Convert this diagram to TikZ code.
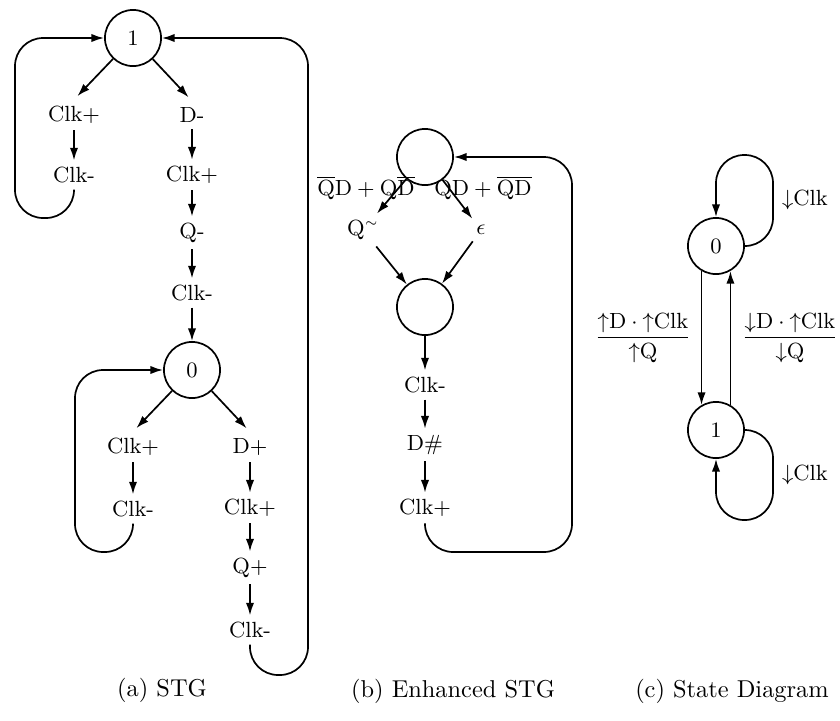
\documentclass[tikz,border=0pt]{standalone}
\usepackage{amsmath,amssymb}
\usepackage{tikz}
\usetikzlibrary{arrows.meta,positioning}

\begin{document}
\begin{tikzpicture}[
    x=0.41pt, y=-0.41pt,
    >={Latex[length=5.2pt,width=3.4pt]},
    state/.style={
        circle, draw, line width=0.7pt,
        minimum size=23pt, inner sep=0pt,
        font=\fontsize{9}{11}\selectfont
    },
    event/.style={inner sep=2.5pt, font=\fontsize{9}{11}\selectfont},
    guard/.style={inner sep=1pt, font=\fontsize{9}{11}\selectfont},
    caption/.style={inner sep=1pt, font=\normalsize},
    arr/.style={->, line width=0.7pt},
    back/.style={->, line width=0.7pt, rounded corners=11.5pt}
]
    \useasboundingbox (0,0) rectangle (840,721);

    % (a) STG
    \node[state] (s1) at (133,38) {1};
    \node[event] (a1) at (74,115) {Clk+};
    \node[event] (a2) at (74,175) {Clk-};
    \node[event] (a3) at (192,115) {D-};
    \node[event] (a4) at (192,175) {Clk+};
    \node[event] (a5) at (192,233) {Q-};
    \node[event] (a6) at (192,293) {Clk-};
    \node[state] (s0) at (192,370) {0};
    \node[event] (a7) at (133,447) {Clk+};
    \node[event] (a8) at (133,509) {Clk-};
    \node[event] (a9) at (250,447) {D+};
    \node[event] (a10) at (250,508) {Clk+};
    \node[event] (a11) at (250,568) {Q+};
    \node[event] (a12) at (250,630) {Clk-};

    \coordinate (la) at (15,218);
    \coordinate (lb) at (75,552);
    \coordinate (ra) at (308,675);

    \draw[arr, shorten >=2pt] (s1) -- (a1.north);
    \draw[arr, shorten >=2pt] (s1) -- (a3.north);
    \draw[arr] (a1) -- (a2);
    \draw[arr] (a3) -- (a4);
    \draw[arr] (a4) -- (a5);
    \draw[arr] (a5) -- (a6);
    \draw[arr] (a6) -- (s0);
    \draw[arr, shorten >=2pt] (s0) -- (a7.north);
    \draw[arr, shorten >=2pt] (s0) -- (a9.north);
    \draw[arr] (a7) -- (a8);
    \draw[arr] (a9) -- (a10);
    \draw[arr] (a10) -- (a11);
    \draw[arr] (a11) -- (a12);

    \draw[back] (a2.south) |- (la) |- (s1.west);
    \draw[back] (a8.south) |- (lb) |- (s0.west);
    \draw[back] (a12.south) |- (ra) |- (s1.east);

    % (b) Enhanced STG
    \node[state] (t1) at (425,157) {};
    \node[state] (t2) at (425,307) {};
    \node[guard] (l1) at (366,188) {$\overline{\mathrm{Q}}\mathrm{D}+\mathrm{Q}\overline{\mathrm{D}}$};
    \node[guard] (l2) at (483,188) {$\mathrm{QD}+\overline{\mathrm{QD}}$};
    \node[event] (b1) at (363,230) {Q$^{\scriptscriptstyle\sim}$};
    \node[event] (b2) at (481,230) {$\epsilon$};
    \node[event] (b3) at (425,385) {Clk-};
    \node[event] (b4) at (425,445) {D\#};
    \node[event] (b5) at (425,508) {Clk+};

    \coordinate (rb) at (572,552);

    \draw[arr] (t1) -- (b1);
    \draw[arr] (t1) -- (b2);
    \draw[arr] (b1) -- (t2);
    \draw[arr] (b2) -- (t2);
    \draw[arr] (t2) -- (b3);
    \draw[arr] (b3) -- (b4);
    \draw[arr] (b4) -- (b5);
    \draw[back] (b5.south) |- (rb) |- (t1.east);

    % (c) State Diagram
    \node[state] (c0) at (716,246) {0};
    \node[state] (c1) at (716,430) {1};
    \node[event] (k0) at (805,200) {$\downarrow$Clk};
    \node[event] (k1) at (805,475) {$\downarrow$Clk};
    \node[guard] (g1) at (643,338) {$\dfrac{{\uparrow}\mathrm{D}\cdot{\uparrow}\mathrm{Clk}}{{\uparrow}\mathrm{Q}}$};
    \node[guard] (g2) at (790,338) {$\dfrac{{\downarrow}\mathrm{D}\cdot{\uparrow}\mathrm{Clk}}{{\downarrow}\mathrm{Q}}$};

    \coordinate (lc0) at (773,155);
    \coordinate (lc1) at (773,520);

    \draw[arr] (c0.-120) -- (c1.120);
    \draw[arr] (c1.60) -- (c0.-60);
    \draw[back] (c0.east) -| (lc0) -| (c0.north);
    \draw[back] (c1.east) -| (lc1) -| (c1.south);

    % Captions
    \node[caption] (capa) at (162,690) {(a) STG};
    \node[caption] (capb) at (453,691) {(b) Enhanced STG};
    \node[caption] (capc) at (732,691) {(c) State Diagram};
\end{tikzpicture}
\end{document}
